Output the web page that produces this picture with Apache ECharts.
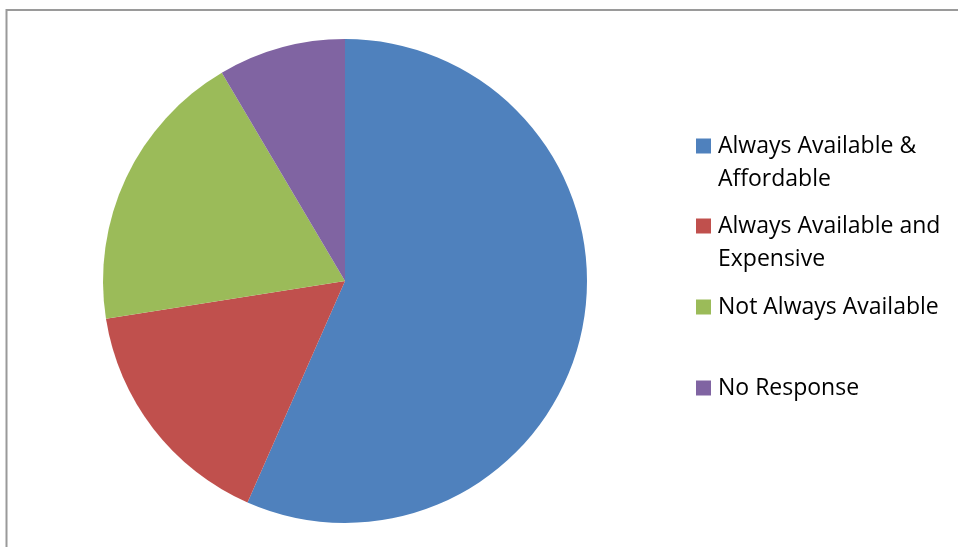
<!DOCTYPE html>
<html>
<head>
<meta charset="utf-8">
<script src="https://cdn.jsdelivr.net/npm/echarts@6/dist/echarts.min.js"></script>
<style>
  html, body { margin: 0; padding: 0; background: #fff; }
  #chart { width: 958px; height: 547px; }
</style>
</head>
<body>
<div id="chart"></div>
<script>
// Survey answers on availability/affordability (share of respondents, %)
const categories = [
  'Always Available & Affordable',
  'Always Available and Expensive',
  'Not Always Available',
  'No Response'
];
const legendLines = [
  ['Always Available &', 'Affordable'],
  ['Always Available and', 'Expensive'],
  ['Not Always Available'],
  ['No Response']
];
const shares = [56.6, 15.9, 19.0, 8.5];
const colors = ['#4F81BD', '#C0504D', '#9BBB59', '#8064A2'];

const FONT = '"Open Sans", "Liberation Sans", sans-serif';
const LINE_H = 33;
// vertical centre of each legend entry's first line
const legendFirstLineY = [144, 224, 305, 386];

const legends = categories.map((name, i) => {
  const lines = legendLines[i];
  // a leading blank line keeps the marker level with the first text line
  const text = lines.length > 1 ? '\n' + lines.join('\n') : lines[0];
  const blockH = (lines.length > 1 ? 3 : 1) * LINE_H;
  return {
    data: [name],
    left: 696,
    top: legendFirstLineY[i] - blockH / 2 + 2,
    padding: 0,
    orient: 'vertical',
    itemWidth: 15,
    itemHeight: 15,
    selectedMode: false,
    icon: 'rect',
    formatter: () => text,
    textStyle: {
      fontFamily: FONT,
      fontSize: 23,
      color: '#000',
      lineHeight: LINE_H,
      padding: [0, 0, 0, 2]
    }
  };
});

const chart = echarts.init(document.getElementById('chart'), null, { renderer: 'canvas' });
chart.setOption({
  backgroundColor: '#fff',
  animation: false,
  color: colors,
  legend: legends,
  graphic: [{
    type: 'rect',
    shape: { x: 6.5, y: 10, width: 1000, height: 600 },
    style: { fill: 'none', stroke: '#9a9a9a', lineWidth: 2 },
    silent: true
  }],
  series: [{
    type: 'pie',
    center: [345, 281],
    radius: 242,
    startAngle: 90,
    clockwise: true,
    label: { show: false },
    labelLine: { show: false },
    emphasis: { disabled: true },
    itemStyle: { borderWidth: 0 },
    data: categories.map((name, i) => ({ name, value: shares[i] }))
  }]
});
</script>
</body>
</html>
